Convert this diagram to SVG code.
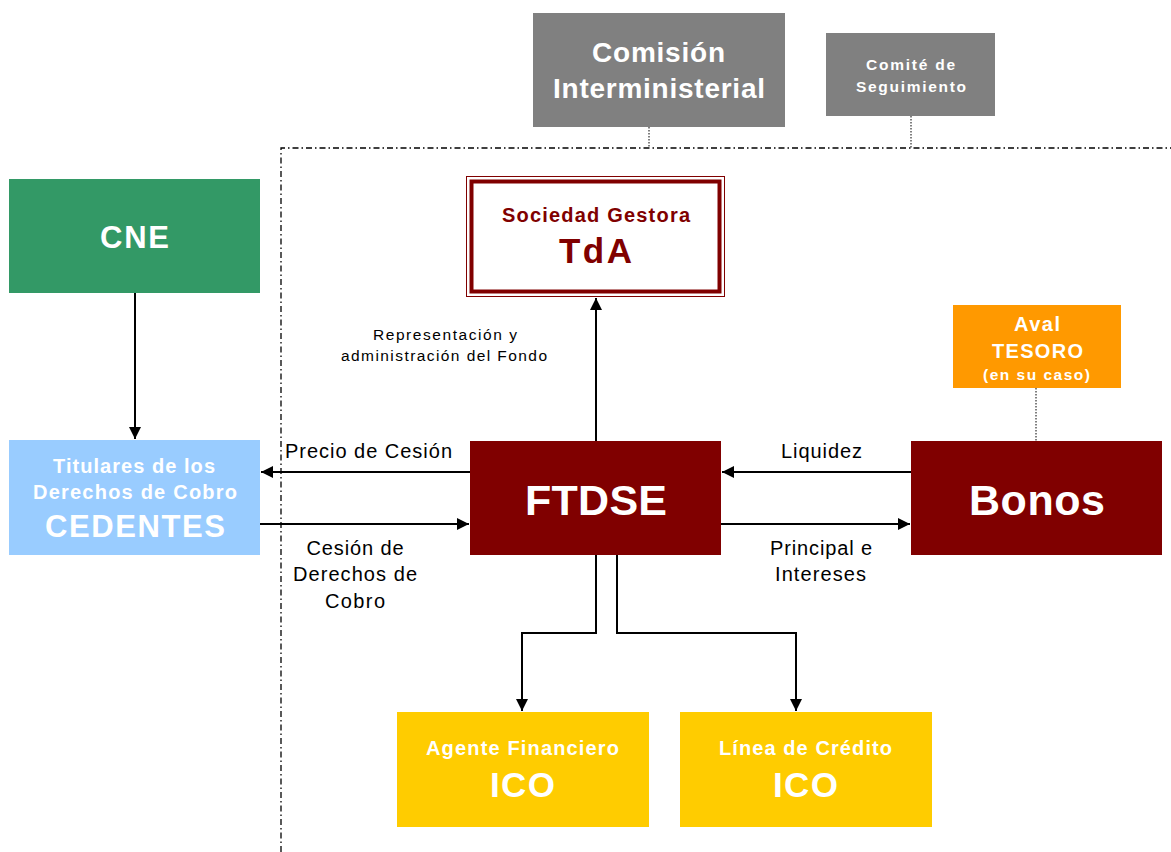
<svg xmlns="http://www.w3.org/2000/svg" width="1171" height="852" viewBox="0 0 1171 852">
  <style>
    text { font-family: "Liberation Sans", Arial, sans-serif; text-anchor: middle; }
    .w { fill: #ffffff; font-weight: bold; }
    .r { fill: #800000; font-weight: bold; }
    .lbl { fill: #000000; font-size: 20px; }
    .small { fill: #000000; font-size: 15.5px; }
    .conn { stroke: #000000; stroke-width: 2; fill: none; }
    .dot { stroke: #000000; stroke-width: 1; stroke-dasharray: 1.5 1.5; fill: none; }
    .frame { stroke: #000000; stroke-width: 1.3; stroke-dasharray: 6 3 1.5 3; fill: none; }
  </style>
  <defs>
    <marker id="arrow" viewBox="0 0 10 10" refX="10" refY="5" markerWidth="6" markerHeight="6" orient="auto" markerUnits="strokeWidth">
      <path d="M0,0 L10,5 L0,10 z" fill="#000000"/>
    </marker>
  </defs>

  <rect width="1171" height="852" fill="#ffffff"/>

  <!-- dash-dot frame around the fund -->
  <path class="frame" d="M281,852 L281,148 L1171,148"/>

  <g id="connectors">
    <line class="dot" x1="649" y1="127" x2="649" y2="148"/>
    <line class="dot" x1="911" y1="116" x2="911" y2="148"/>
    <line class="dot" x1="1036" y1="388" x2="1036" y2="441"/>
    <line class="conn" x1="135" y1="293" x2="135" y2="439" marker-end="url(#arrow)"/>
    <line class="conn" x1="596" y1="441" x2="596" y2="298" marker-end="url(#arrow)"/>
    <line class="conn" x1="470" y1="472" x2="261" y2="472" marker-end="url(#arrow)"/>
    <line class="conn" x1="260" y1="524" x2="469" y2="524" marker-end="url(#arrow)"/>
    <line class="conn" x1="911" y1="472" x2="722" y2="472" marker-end="url(#arrow)"/>
    <line class="conn" x1="721" y1="524" x2="910" y2="524" marker-end="url(#arrow)"/>
    <polyline class="conn" points="596,555 596,633 522,633 522,711" marker-end="url(#arrow)"/>
    <polyline class="conn" points="617,555 617,633 796,633 796,711" marker-end="url(#arrow)"/>
    <text class="lbl" x="368.5" y="458" textLength="167" lengthAdjust="spacing">Precio de Cesión</text>
    <text class="lbl" x="355" y="555" textLength="97" lengthAdjust="spacing">Cesión de</text>
    <text class="lbl" x="355" y="581" textLength="124" lengthAdjust="spacing">Derechos de</text>
    <text class="lbl" x="355" y="608" textLength="60" lengthAdjust="spacing">Cobro</text>
    <text class="lbl" x="821.5" y="458" textLength="81" lengthAdjust="spacing">Liquidez</text>
    <text class="lbl" x="821" y="555" textLength="102" lengthAdjust="spacing">Principal e</text>
    <text class="lbl" x="820.5" y="581" textLength="91" lengthAdjust="spacing">Intereses</text>
    <text class="small" x="445" y="340" textLength="144" lengthAdjust="spacing">Representación y</text>
    <text class="small" x="444" y="361" textLength="206" lengthAdjust="spacing">administración del Fondo</text>
  </g>

  <g id="comision">
    <rect x="533" y="13" width="252" height="114" fill="#808080"/>
    <text class="w" x="658.5" y="62" font-size="28" textLength="133" lengthAdjust="spacing">Comisión</text>
    <text class="w" x="659" y="98" font-size="28" textLength="212" lengthAdjust="spacing">Interministerial</text>
  </g>

  <g id="comite">
    <rect x="826" y="33" width="169" height="83" fill="#808080"/>
    <text class="w" x="910.5" y="70" font-size="15.5" textLength="89" lengthAdjust="spacing">Comité de</text>
    <text class="w" x="911" y="92" font-size="15.5" textLength="110" lengthAdjust="spacing">Seguimiento</text>
  </g>

  <g id="cne">
    <rect x="9" y="179" width="251" height="114" fill="#339966"/>
    <text class="w" x="134.5" y="248" font-size="31" textLength="69" lengthAdjust="spacing">CNE</text>
  </g>

  <g id="titulares">
    <rect x="9" y="440" width="251" height="115" fill="#99CCFF"/>
    <text class="w" x="134" y="473" font-size="20" textLength="162" lengthAdjust="spacing">Titulares de los</text>
    <text class="w" x="135" y="499" font-size="20" textLength="204" lengthAdjust="spacing">Derechos de Cobro</text>
    <text class="w" x="135" y="537" font-size="31" textLength="180" lengthAdjust="spacing">CEDENTES</text>
  </g>

  <g id="sociedad-gestora">
    <rect x="466.5" y="176.5" width="258" height="120" fill="#ffffff" stroke="#800000" stroke-width="1"/>
    <rect x="471.5" y="181.5" width="248" height="110" fill="#ffffff" stroke="#800000" stroke-width="4"/>
    <text class="r" x="596" y="222" font-size="20" textLength="188" lengthAdjust="spacing">Sociedad Gestora</text>
    <text class="r" x="595.5" y="263" font-size="35" textLength="73" lengthAdjust="spacing">TdA</text>
  </g>

  <g id="ftdse">
    <rect x="470" y="441" width="251" height="114" fill="#800000"/>
    <text class="w" x="596" y="515" font-size="43" textLength="142" lengthAdjust="spacing">FTDSE</text>
  </g>

  <g id="aval">
    <rect x="953" y="305" width="168" height="83" fill="#FF9900"/>
    <text class="w" x="1037" y="331" font-size="20" textLength="46" lengthAdjust="spacing">Aval</text>
    <text class="w" x="1037.5" y="358" font-size="20" textLength="91" lengthAdjust="spacing">TESORO</text>
    <text class="w" x="1036.5" y="380" font-size="15.5" textLength="107" lengthAdjust="spacing">(en su caso)</text>
  </g>

  <g id="bonos">
    <rect x="911" y="441" width="251" height="114" fill="#800000"/>
    <text class="w" x="1037" y="515" font-size="43" textLength="136" lengthAdjust="spacing">Bonos</text>
  </g>

  <g id="agente-financiero">
    <rect x="397" y="712" width="252" height="115" fill="#FFCC00"/>
    <text class="w" x="522.5" y="755" font-size="20" textLength="193" lengthAdjust="spacing">Agente Financiero</text>
    <text class="w" x="522.5" y="797" font-size="35" textLength="65" lengthAdjust="spacing">ICO</text>
  </g>

  <g id="linea-credito">
    <rect x="680" y="712" width="252" height="115" fill="#FFCC00"/>
    <text class="w" x="805.5" y="755" font-size="20" textLength="173" lengthAdjust="spacing">Línea de Crédito</text>
    <text class="w" x="805.5" y="797" font-size="35" textLength="65" lengthAdjust="spacing">ICO</text>
  </g>
</svg>
